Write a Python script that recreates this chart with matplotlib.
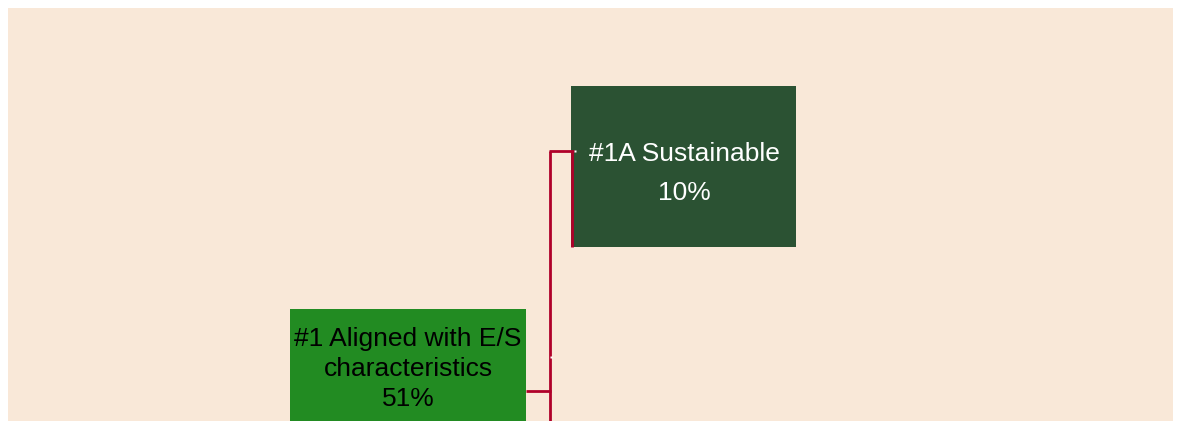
import matplotlib
matplotlib.use("Agg")
import matplotlib.pyplot as plt
from matplotlib.patches import Rectangle

plt.rcParams['font.family'] = ['Liberation Sans', 'DejaVu Sans']

# Content
labels = ["#1A Sustainable", "#1 Aligned with E/S\ncharacteristics"]
shares = ["10%", "51%"]

W, H = 1181, 421
fig = plt.figure(figsize=(W / 100, H / 100), dpi=100)
fig.patch.set_facecolor("white")
ax = fig.add_axes([0, 0, 1, 1])
ax.set_xlim(0, W)
ax.set_ylim(H, 0)
ax.axis("off")

bg = "#F9E8D8"
dark = "#2B5233"
light = "#228B22"
red = "#B0002A"

ax.add_patch(Rectangle((8, 8), 1165, 420, facecolor=bg, edgecolor="none", zorder=0))

# boxes
ax.add_patch(Rectangle((571, 86), 225, 161, facecolor=dark, edgecolor="none", zorder=1))
ax.add_patch(Rectangle((290, 309), 236, 120, facecolor=light, edgecolor="none", zorder=1))

# connectors
lw = 2.0
ax.plot([550, 550], [151, 425], color=red, lw=lw, solid_capstyle="butt", zorder=2)
ax.plot([549, 574], [151, 151], color=red, lw=lw, solid_capstyle="butt", zorder=2)
ax.plot([572, 572], [151, 247], color=red, lw=lw, solid_capstyle="butt", zorder=2)
ax.plot([526, 551], [391, 391], color=red, lw=lw, solid_capstyle="butt", zorder=2)
ax.plot([575], [151], marker="s", ms=1.5, color="white", mec="none", zorder=3)
ax.plot([551], [357], marker="s", ms=1.5, color="white", mec="none", zorder=3)

# texts
ax.text(684, 154, labels[0], color="white", fontsize=19, ha="center", va="center", zorder=4)
ax.text(684, 193, shares[0], color="white", fontsize=19, ha="center", va="center", zorder=4)

l1, l2 = labels[1].split("\n")
ax.text(408, 339, l1, color="black", fontsize=19, ha="center", va="center", zorder=4)
ax.text(408, 369, l2, color="black", fontsize=19, ha="center", va="center", zorder=4)
ax.text(408, 399, shares[1], color="black", fontsize=19, ha="center", va="center", zorder=4)

fig.savefig("out.png", dpi=100, facecolor="white")
